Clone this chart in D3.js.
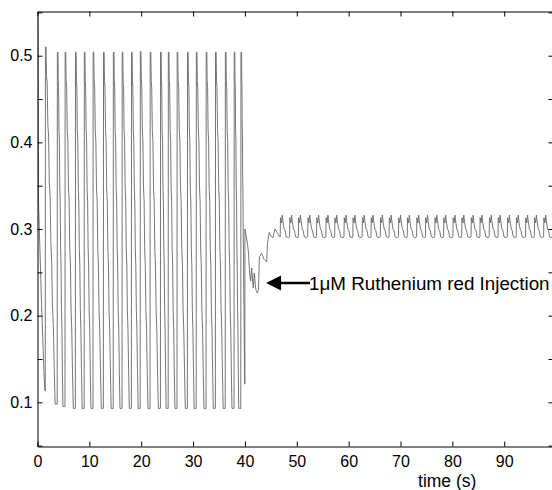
<!DOCTYPE html>
<html>
<head>
<meta charset="utf-8">
<script src="https://cdn.jsdelivr.net/npm/d3@7"></script>
<style>
body { margin: 0; background: #fff; }
svg { display: block; font-family: "Liberation Sans", Arial, sans-serif; }
.axis path, .axis line { stroke: #000; }
.axis text { font-size: 16px; fill: #000; }
</style>
</head>
<body>
<div id="chart"></div>
<script>
// ticks
const xTickValues = [0, 10, 20, 30, 40, 50, 60, 70, 80, 90];
const yTickValues = [0.05, 0.1, 0.15, 0.2, 0.25, 0.3, 0.35, 0.4, 0.45, 0.5, 0.55];
const yLabelValues = [0.1, 0.2, 0.3, 0.4, 0.5];

// start of the recording, before the first full spike
const startTrace = [[0, 0.545], [0.1, 0.53], [0.2, 0.33], [0.5, 0.27], [0.8, 0.21], [1.1, 0.16], [1.3, 0.125], [1.45, 0.113]];

// large oscillations before injection: rise time, peak, trough reached before next rise
const burstOnsets = [1.5, 3.8, 5.3, 7.3, 9.0, 10.7, 12.7, 14.6, 16.3, 18.1, 19.8, 21.7, 23.7, 25.2, 26.9, 28.9, 30.6, 32.5, 34.3, 36.2, 37.9, 39.2];
const burstPeaks = [0.510, 0.504, 0.504, 0.504, 0.504, 0.504, 0.504, 0.504, 0.504, 0.504, 0.505, 0.504, 0.504, 0.504, 0.504, 0.504, 0.504, 0.504, 0.504, 0.504, 0.504, 0.504];
const burstTroughs = [0.098, 0.095, 0.093, 0.093, 0.093, 0.093, 0.093, 0.093, 0.093, 0.093, 0.093, 0.093, 0.093, 0.093, 0.093, 0.093, 0.093, 0.093, 0.093, 0.093, 0.093, 0.121];
// stepped decay of one spike: [fraction of fall time, fraction of drop]
const burstFall = [[0, 0], [0.05, 0.08], [0.12, 0.1], [0.2, 0.22], [0.28, 0.25], [0.36, 0.38], [0.45, 0.42], [0.53, 0.55], [0.62, 0.6], [0.7, 0.72], [0.8, 0.78], [0.9, 0.9], [1, 1]];

// right after the Ruthenium red injection
const transitionTrace = [[40.0, 0.300], [40.5, 0.283], [40.7, 0.271], [40.9, 0.249], [41.1, 0.240], [41.3, 0.255], [41.6, 0.232], [41.8, 0.249], [42.1, 0.230], [42.4, 0.226], [42.6, 0.229], [42.8, 0.268], [43.2, 0.272], [43.7, 0.265], [44.2, 0.262], [44.35, 0.284], [44.7, 0.296], [45.0, 0.292], [45.4, 0.290], [45.8, 0.300], [46.2, 0.296], [46.6, 0.292]];

// small oscillations after injection
const plateauOnsets = [46.8, 48.6, 50.3, 52.1, 53.8, 55.6, 57.3, 59.1, 60.8, 62.6, 64.3, 66.1, 67.8, 69.6, 71.3, 73.1, 74.8, 76.6, 78.3, 80.1, 81.8, 83.6, 85.3, 87.1, 88.8, 90.6, 92.3, 94.1, 95.8, 97.6, 99.3];
// one small spike: [seconds after rise, value]
const plateauShape = [[0, 0.291], [0.05, 0.313], [0.25, 0.307], [0.4, 0.316], [0.55, 0.308], [0.75, 0.300], [0.95, 0.298], [1.15, 0.291], [1.6, 0.290]];

const annotation = {text: "1\u03bcM Ruthenium red Injection", tipTime: 44.07, lineEnd: 52.55, textTime: 52.36, value: 0.2377};

// build the trace
let trace = startTrace.slice();
burstOnsets.forEach((t0, i) => {
    let peak = burstPeaks[i], trough = burstTroughs[i];
    let prev = trace[trace.length - 1][1];
    trace.push([t0, prev]);
    trace.push([t0 + 0.03, peak]);
    let fallStart = t0 + 0.15;
    let fallEnd = (i < burstOnsets.length - 1 ? burstOnsets[i + 1] - 0.4 : 39.95);
    burstFall.forEach(f => {
        trace.push([fallStart + f[0] * (fallEnd - fallStart), peak - f[1] * (peak - trough)]);
    });
});
trace.push([39.98, 0.121]);
transitionTrace.forEach(p => trace.push(p));
plateauOnsets.forEach((t0, i) => {
    let next = i < plateauOnsets.length - 1 ? plateauOnsets[i + 1] : 101;
    plateauShape.forEach(p => {
        if (t0 + p[0] < next) trace.push([t0 + p[0], p[1]]);
    });
});

const width = 552, height = 490;
const svg = d3.select("#chart").append("svg")
    .attr("width", width)
    .attr("height", height);

const xScale = d3.scaleLinear().domain([0, 99.5]).range([37.5, 553.5]);
const yScale = d3.scaleLinear().domain([0.049, 0.551]).range([446.5, 11.5]);

svg.append("clipPath").attr("id", "plot-clip")
    .append("rect")
    .attr("x", xScale(0)).attr("y", yScale(0.551))
    .attr("width", xScale(99.5) - xScale(0))
    .attr("height", yScale(0.049) - yScale(0.551));

// data line
svg.append("path")
    .datum(trace)
    .attr("clip-path", "url(#plot-clip)")
    .attr("fill", "none")
    .attr("stroke", "#666")
    .attr("stroke-width", 0.9)
    .attr("d", d3.line().x(d => xScale(d[0])).y(d => yScale(d[1])));

// box axes with inward ticks
svg.append("g").attr("class", "axis")
    .attr("transform", "translate(0," + yScale(0.049) + ")")
    .call(d3.axisBottom(xScale).tickValues(xTickValues).tickSizeInner(-5).tickSizeOuter(0).tickPadding(9));
svg.append("g").attr("class", "axis")
    .attr("transform", "translate(0," + yScale(0.551) + ")")
    .call(d3.axisTop(xScale).tickValues(xTickValues).tickSizeInner(-5).tickSizeOuter(0).tickFormat(""));
svg.append("g").attr("class", "axis")
    .attr("transform", "translate(" + xScale(0) + ",0)")
    .call(d3.axisLeft(yScale).tickValues(yTickValues).tickSizeInner(-5).tickSizeOuter(0).tickPadding(5)
        .tickFormat(d => yLabelValues.includes(d) ? d3.format(".1f")(d) : ""));
svg.append("g").attr("class", "axis")
    .attr("transform", "translate(" + xScale(99.5) + ",0)")
    .call(d3.axisRight(yScale).tickValues(yTickValues).tickSizeInner(-5).tickSizeOuter(0).tickFormat(""));

// x label
svg.append("text")
    .attr("x", xScale(79))
    .attr("y", 487)
    .attr("text-anchor", "middle")
    .style("font-size", "17.5px")
    .text("time (s)");

// injection arrow
let tipX = xScale(annotation.tipTime), arrowY = yScale(annotation.value);
svg.append("line")
    .attr("x1", tipX + 10)
    .attr("x2", xScale(annotation.lineEnd))
    .attr("y1", arrowY)
    .attr("y2", arrowY)
    .attr("stroke", "#000")
    .attr("stroke-width", 2.4);

svg.append("path")
    .attr("d", "M" + tipX + "," + arrowY + " L" + (tipX + 15) + "," + (arrowY - 7.5) + " L" + (tipX + 15) + "," + (arrowY + 7.5) + " Z")
    .attr("fill", "#000");

svg.append("text")
    .attr("x", xScale(annotation.textTime))
    .attr("y", arrowY + 7.5)
    .style("font-size", "18.8px")
    .text(annotation.text);
</script>
</body>
</html>
